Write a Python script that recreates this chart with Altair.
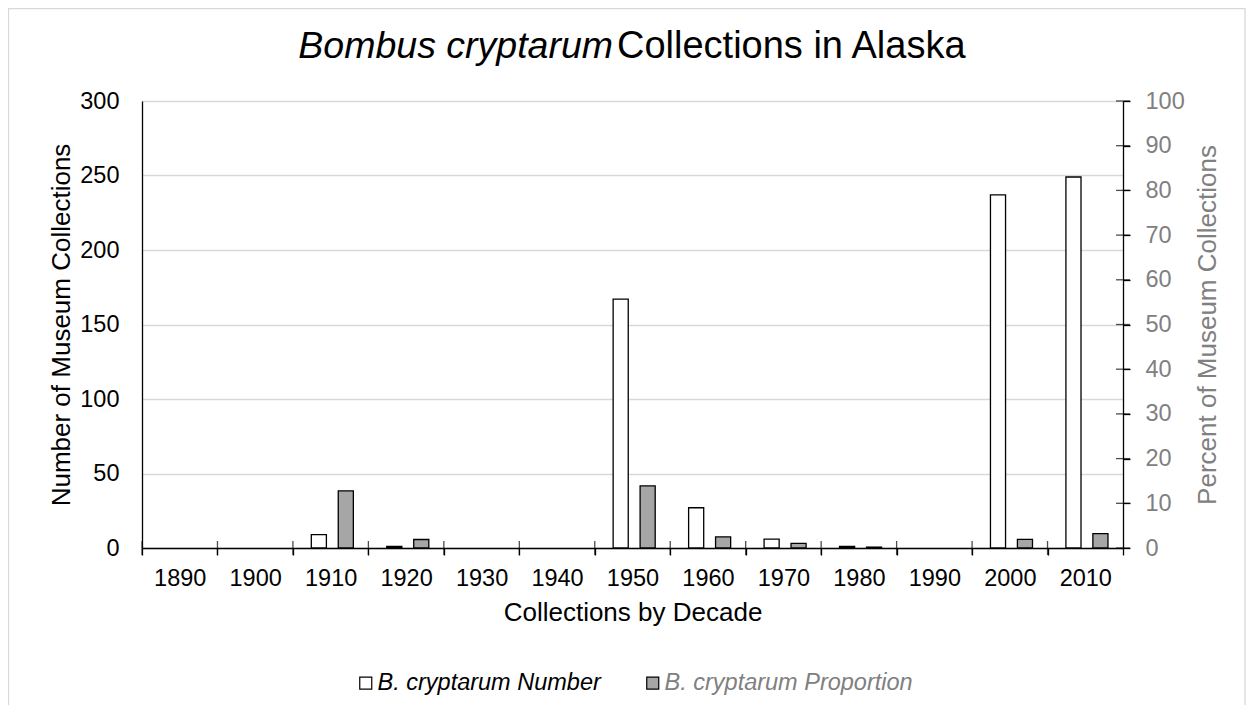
import altair as alt
import pandas as pd

# ---------------- data ----------------
decades = ["1890", "1900", "1910", "1920", "1930", "1940", "1950",
           "1960", "1970", "1980", "1990", "2000", "2010"]
numbers = [0, 0, 9, 1, 0, 0, 167, 27, 6, 1, 0, 237, 249]
proportions = [0, 0, 12.8, 1.9, 0, 0, 13.9, 2.5, 1.05, 0.2, 0, 1.95, 3.2]
series_names = ["B. cryptarum Number", "B. cryptarum Proportion"]
left_ticks = [0, 50, 100, 150, 200, 250, 300]
right_ticks = [0, 10, 20, 30, 40, 50, 60, 70, 80, 90, 100]
title_italic = "Bombus cryptarum"
title_rest = "Collections in Alaska"

num_df = pd.DataFrame({"decade": decades, "value": numbers, "series": series_names[0]})
prop_df = pd.DataFrame({"decade": decades, "pct": proportions, "series": series_names[1]})
rt_df = pd.DataFrame({"tickpct": right_ticks})
xt_df = pd.DataFrame({"decade": decades})
one_df = pd.DataFrame({"k": [0]})

FONT = "Liberation Sans"
GRAY = "#808080"
W, H = 981, 447

x_axis = alt.Axis(title="Collections by Decade", labelAngle=0, labelFontSize=23.5,
                  titleFontSize=26, titleFontWeight="normal", labelColor="black",
                  titleColor="black", domainColor="black", domainWidth=1.3,
                  tickColor="black", tickWidth=1.3, tickSize=7, tickBand="extent",
                  labelPadding=11, titlePadding=10, grid=False,
                  labelFont=FONT, titleFont=FONT)
x_scale = alt.Scale(domain=decades, paddingInner=0, paddingOuter=0)
x_enc = alt.X("decade:N", sort=decades, scale=x_scale, axis=x_axis)
xoff = alt.XOffset("series:N", scale=alt.Scale(domain=series_names, paddingInner=0.44,
                                                paddingOuter=0.62, align=0.55))
fill = alt.Fill(
    "series:N",
    scale=alt.Scale(domain=series_names, range=["white", "#a6a6a6"]),
    legend=alt.Legend(
        title=None, orient="none", legendX=212, legendY=570, direction="horizontal",
        columns=2, symbolType="square", symbolSize=144, symbolStrokeColor="black",
        symbolStrokeWidth=1.2, labelFontSize=23.5, labelFontStyle="italic",
        labelFont=FONT, labelOffset=0, columnPadding=40, labelLimit=0, padding=0,
        labelColor={"expr": "datum.label == '" + series_names[0] + "' ? 'black' : '" + GRAY + "'"},
    ),
)

num_bars = alt.Chart(num_df).mark_bar(stroke="black", strokeWidth=1.3).encode(
    x=x_enc,
    xOffset=xoff,
    y=alt.Y("value:Q", scale=alt.Scale(domain=[0, 300], nice=False),
            axis=alt.Axis(values=left_ticks, title="Number of Museum Collections",
                          orient="left", grid=True, gridColor="#d9d9d9", gridWidth=1.3,
                          ticks=False, tickSize=0, labelPadding=23, labelFontSize=23.5,
                          titleFontSize=26, titleFontWeight="normal", titlePadding=5,
                          labelColor="black", titleColor="black", domainColor="black",
                          domainWidth=1.3, labelFont=FONT, titleFont=FONT)),
    fill=fill,
    strokeOpacity=alt.condition(alt.datum.value > 0, alt.value(1), alt.value(0)),
)

prop_bars = alt.Chart(prop_df).mark_bar(stroke="black", strokeWidth=1.3).encode(
    x=x_enc,
    xOffset=xoff,
    y=alt.Y("pct:Q", scale=alt.Scale(domain=[0, 100], nice=False),
            axis=alt.Axis(values=right_ticks, title="Percent of Museum Collections",
                          orient="right", grid=False, tickSize=7, tickColor="black",
                          tickWidth=1.3, labelPadding=15, labelFontSize=23.5,
                          titleFontSize=26, titleFontWeight="normal", titlePadding=10,
                          titleAngle=270, titleBaseline="top",
                          labelColor=GRAY, titleColor=GRAY, domainColor="black",
                          domainWidth=1.3, labelFont=FONT, titleFont=FONT)),
    fill=fill,
    strokeOpacity=alt.condition(alt.datum.pct > 0, alt.value(1), alt.value(0)),
)

right_inner_ticks = alt.Chart(rt_df).mark_tick(
    orient="horizontal", color="black", size=14, thickness=1.3
).encode(
    y=alt.Y("tickpct:Q", scale=alt.Scale(domain=[0, 100], nice=False), axis=None),
    x=alt.value(W),
)

x_inner_ticks = alt.Chart(xt_df).mark_tick(
    orient="vertical", color="black", size=14, thickness=1.3
).encode(
    x=alt.X("decade:N", sort=decades, scale=x_scale, axis=x_axis, bandPosition=0),
    y=alt.value(H),
)

title_a = alt.Chart(one_df).mark_text(
    text=title_italic, font=FONT, fontSize=37.5, fontStyle="italic",
    align="right", baseline="alphabetic", color="black"
).encode(x=alt.value(471), y=alt.value(-43))

title_b = alt.Chart(one_df).mark_text(
    text=title_rest, font=FONT, fontSize=38, align="left",
    baseline="alphabetic", color="black"
).encode(x=alt.value(475), y=alt.value(-43))

border = alt.Chart(one_df).mark_rect(fill=None, stroke="#d9d9d9", strokeWidth=1.3).encode(
    x=alt.value(-133.5), x2=alt.value(W + 122), y=alt.value(-92.5), y2=alt.value(H + 300)
)

chart = alt.layer(
    border, num_bars, prop_bars, right_inner_ticks, x_inner_ticks, title_a, title_b
).resolve_scale(y="independent").properties(
    width=W, height=H,
    padding={"left": 134, "top": 93, "right": 123, "bottom": 157},
    autosize=alt.AutoSizeParams(type="none"),
    background="white",
).configure_view(stroke=None).configure(font=FONT)

chart.save("out.html", embed_options={"renderer": "svg", "actions": False})
